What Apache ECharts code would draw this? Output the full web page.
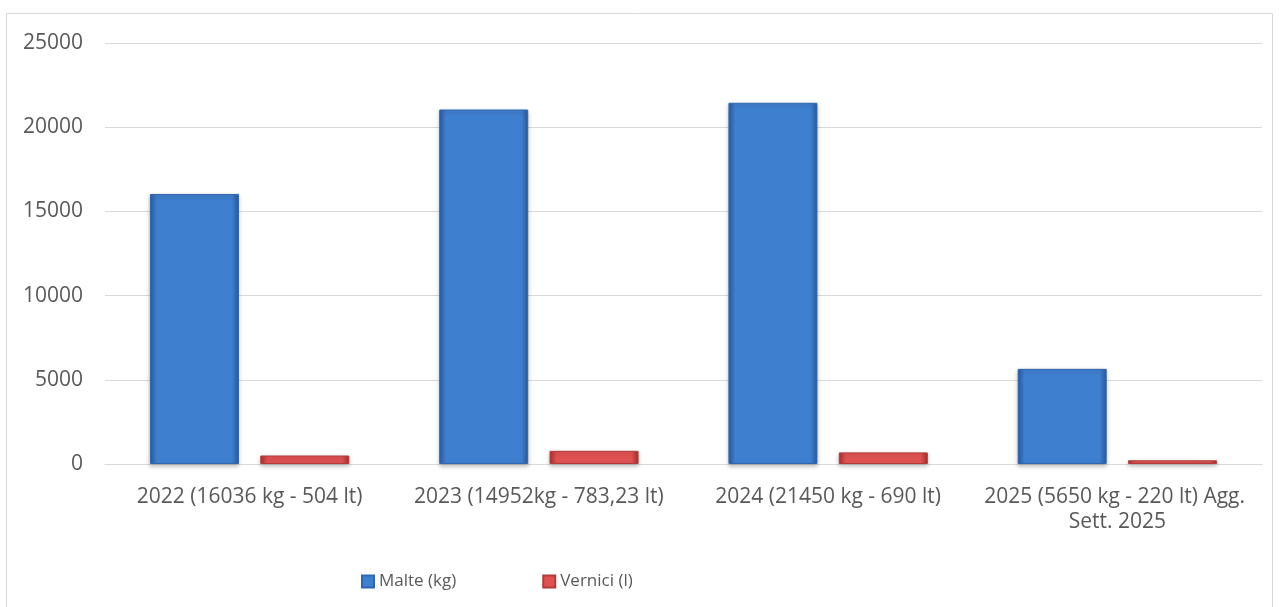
<!DOCTYPE html>
<html>
<head>
<meta charset="utf-8">
<script src="https://cdn.jsdelivr.net/npm/echarts@6/dist/echarts.min.js"></script>
<style>
  html, body { margin: 0; padding: 0; background: #fff; }
  #chart { width: 1279px; height: 607px; }
</style>
</head>
<body>
<div id="chart"></div>
<script>
// dati
const categories = [
  '2022 (16036 kg - 504 lt)',
  '2023 (14952kg - 783,23 lt)',
  '2024 (21450 kg - 690 lt)',
  '2025 (5650 kg - 220 lt) Agg. Sett. 2025'
];
const malte = [16036, 21050, 21450, 5650];
const vernici = [504, 783, 690, 220];
const yTicks = [0, 5000, 10000, 15000, 20000, 25000];

const myChart = echarts.init(document.getElementById('chart'));

// effetto "smussato" tipo Excel con gradiente orizzontale
const bevel = (edge, mid) => ({
  type: 'linear', x: 0, y: 0, x2: 1, y2: 0,
  colorStops: [
    { offset: 0, color: edge },
    { offset: 0.08, color: mid },
    { offset: 0.92, color: mid },
    { offset: 1, color: edge }
  ]
});

const axisFont = { fontFamily: 'Open Sans', fontSize: 21, color: '#595959' };

const option = {
  backgroundColor: '#fff',
  animation: false,
  graphic: [{
    type: 'rect',
    shape: { x: 6.5, y: 13.5, width: 1266, height: 600 },
    style: { fill: 'none', stroke: '#d9d9d9', lineWidth: 1 },
    silent: true
  }],
  grid: { left: 105, right: 17, top: 43, bottom: 143 },
  legend: {
    left: 356,
    top: 568,
    icon: 'rect',
    itemWidth: 12,
    itemHeight: 12,
    itemGap: 86,
    textStyle: { fontFamily: 'Open Sans', fontSize: 17, color: '#595959' },
    data: ['Malte (kg)', 'Vernici (l)']
  },
  xAxis: {
    type: 'category',
    data: categories,
    axisTick: { show: false },
    axisLine: { lineStyle: { color: '#d9d9d9', width: 1 } },
    axisLabel: Object.assign({
      margin: 21,
      interval: 0,
      width: 285,
      overflow: 'break',
      lineHeight: 25
    }, axisFont)
  },
  yAxis: {
    type: 'value',
    min: 0,
    max: yTicks[yTicks.length - 1],
    interval: yTicks[1] - yTicks[0],
    axisLine: { show: false },
    axisTick: { show: false },
    axisLabel: Object.assign({ margin: 22, formatter: v => String(v) }, axisFont),
    splitLine: { lineStyle: { color: '#d9d9d9', width: 1 } }
  },
  series: [{
    name: 'Malte (kg)',
    type: 'bar',
    barWidth: 89,
    barGap: '24%',
    data: malte,
    itemStyle: {
      color: bevel('#2b5c9e', '#3f7fd0'),
      borderColor: '#2f66ad',
      borderWidth: 1,
      shadowColor: 'rgba(0,0,0,0.25)',
      shadowBlur: 4,
      shadowOffsetY: 2
    }
  }, {
    name: 'Vernici (l)',
    type: 'bar',
    barWidth: 89,
    barGap: '24%',
    data: vernici,
    itemStyle: {
      color: bevel('#a83030', '#e05252'),
      borderColor: '#b33a3a',
      borderWidth: 1,
      shadowColor: 'rgba(0,0,0,0.25)',
      shadowBlur: 4,
      shadowOffsetY: 2
    }
  }]
};

myChart.setOption(option);
window.addEventListener('resize', myChart.resize);
</script>
</body>
</html>
